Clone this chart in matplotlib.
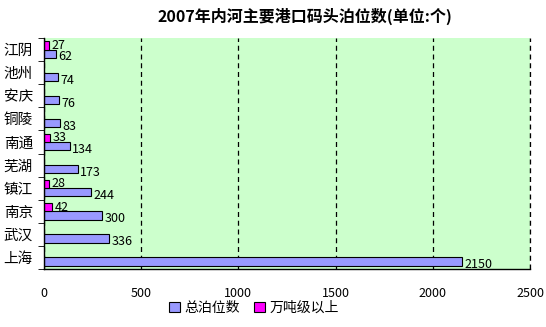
import numpy as np
import matplotlib.pyplot as plt

plt.rcParams['font.family'] = ['Noto Sans CJK SC', 'DejaVu Sans']

# ---------- DATA ----------
cities = ["江阴", "池州", "安庆", "铜陵", "南通", "芜湖", "镇江", "南京", "武汉", "上海"]
total_berths = [62, 74, 76, 83, 134, 173, 244, 300, 336, 2150]
big_berths = [27, None, None, None, 33, None, 28, 42, None, None]

# ---------- FIGURE ----------
fig = plt.figure(figsize=(5.46, 3.27), dpi=100)
ax = fig.add_axes([44 / 546, 1 - 269 / 327, 486 / 546, 231 / 327])
ax.set_facecolor("#CCFFCC")

y = np.arange(len(cities))
h = 0.36

ax.barh(y + h / 2, total_berths, height=h, color="#9999FF",
        edgecolor="black", linewidth=0.8, label="总泊位数")
big_y = [yy - h / 2 for yy, v in zip(y, big_berths) if v is not None]
big_v = [v for v in big_berths if v is not None]
ax.barh(big_y, big_v, height=h, color="#FF00FF",
        edgecolor="black", linewidth=0.8, label="万吨级以上")

for yy, v in zip(y, total_berths):
    ax.text(v + 12, yy + h / 2 + 0.14, str(v), va="center", ha="left", fontsize=9)
for yy, v in zip(big_y, big_v):
    ax.text(v + 12, yy + 0.0, str(v), va="center", ha="left", fontsize=9)

ax.set_xlim(0, 2500)
ax.set_ylim(len(cities) - 0.5, -0.5)
ax.set_xticks([0, 500, 1000, 1500, 2000, 2500])
ax.tick_params(axis="x", length=0, pad=13, labelsize=9)
ax.set_yticks(y)
ax.set_yticklabels(cities, fontsize=10.5)
ax.set_yticks(np.arange(len(cities) + 1) - 0.5, minor=True)
ax.tick_params(axis="y", which="major", length=0, pad=8)
ax.tick_params(axis="y", which="minor", length=4, direction="out")

ax.grid(axis="x", color="black", linestyle=(0, (4, 3)), linewidth=0.9)
ax.set_axisbelow(True)
for s in ["top", "right"]:
    ax.spines[s].set_visible(False)
ax.spines["left"].set_linewidth(1)
ax.spines["bottom"].set_linewidth(1)
ax.axvline(2500, color="black", linestyle=(0, (4, 3)), linewidth=0.9, clip_on=False)

fig.text(305 / 546, 1 - 16 / 327, "2007年内河主要港口码头泊位数(单位:个)",
         ha="center", va="center", fontsize=11.5, fontweight="bold")

fig.legend(loc="center", bbox_to_anchor=(254 / 546, 1 - 308 / 327), ncol=2,
           frameon=False, fontsize=10, handlelength=0.8, handleheight=0.8,
           handletextpad=0.3, columnspacing=1.0)

fig.savefig("out.png", dpi=100)
